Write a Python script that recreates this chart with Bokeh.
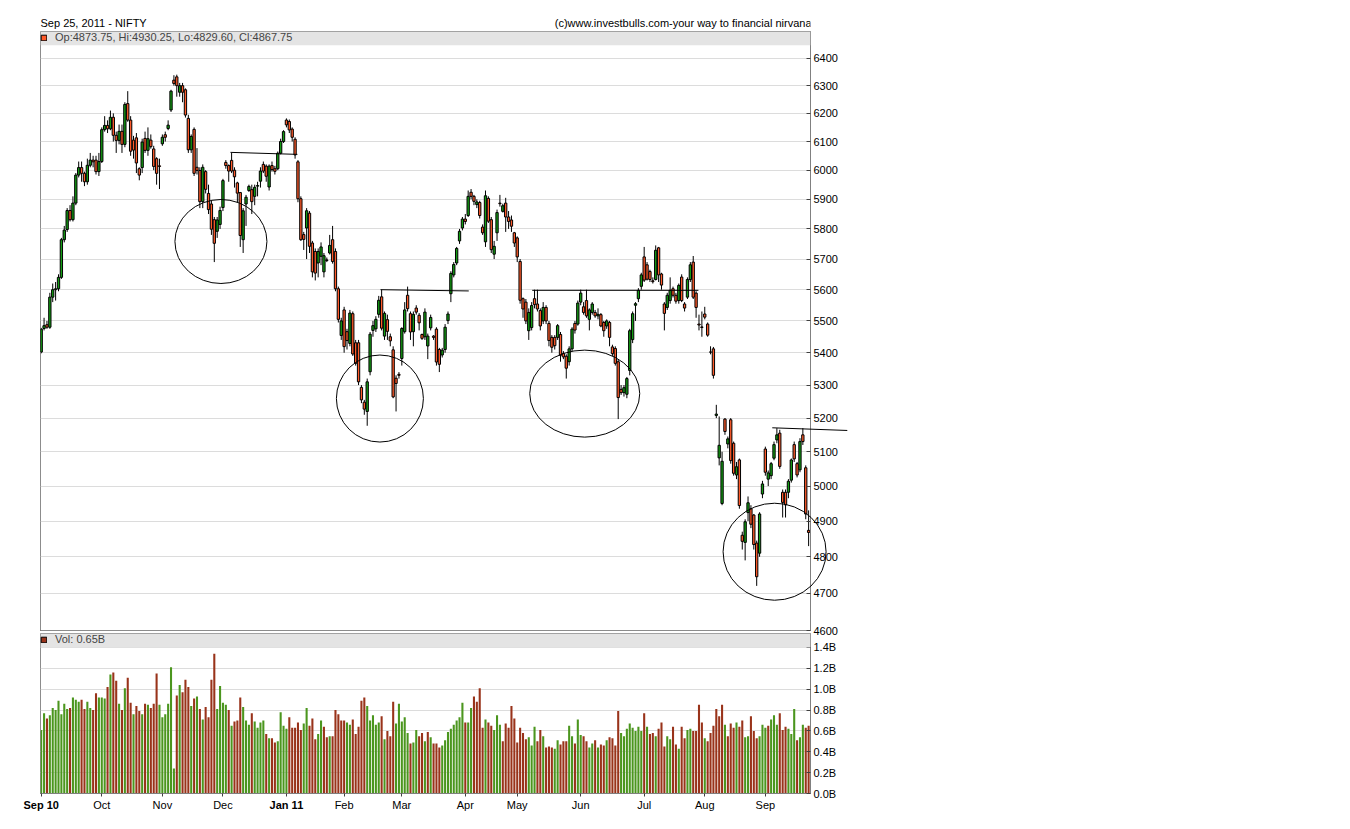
from bokeh.plotting import figure
from bokeh.layouts import column
from bokeh.models import (Range1d, FixedTicker, PrintfTickFormatter, ColumnDataSource,
                          Legend, LegendItem, BoxAnnotation)
from bokeh.core.properties import value
from bokeh.embed import file_html
from bokeh.resources import INLINE

# ---------------- data ----------------
TITLE_LEFT = "Sep 25, 2011 -  NIFTY"
TITLE_RIGHT = "(c)www.investbulls.com-your way to financial nirvana"

MONTH_LABELS = ["Sep 10", "Oct", "Nov", "Dec", "Jan 11", "Feb", "Mar", "Apr", "May", "Jun", "Jul", "Aug", "Sep"]
MONTH_START = [0, 21, 42, 63, 85, 105, 125, 147, 165, 187, 209, 230, 251]
BOLD_MONTHS = ["Sep 10", "Jan 11"]
PRICE_TICKS = [4600, 4700, 4800, 4900, 5000, 5100, 5200, 5300, 5400, 5500,
               5600, 5700, 5800, 5900, 6000, 6100, 6200, 6300, 6400]
VOLUME_TICKS = [0.0, 0.2, 0.4, 0.6, 0.8, 1.0, 1.2, 1.4]

OHLC = [
    # Sep 2010
    (5402, 5478, 5398, 5474), (5476, 5510, 5470, 5485), (5488, 5500, 5475, 5480), (5480, 5590, 5475, 5576),
    (5576, 5620, 5560, 5600), (5600, 5625, 5565, 5603), (5603, 5650, 5595, 5640), (5640, 5770, 5635, 5764),
    (5764, 5810, 5755, 5796), (5798, 5870, 5790, 5862), (5862, 5880, 5825, 5831), (5831, 5910, 5825, 5887),
    (5887, 5990, 5880, 5983), (5983, 6030, 5975, 6009), (6009, 6030, 5960, 5989), (5989, 5995, 5945, 5960),
    (5960, 6040, 5950, 6017), (6017, 6060, 6010, 6035), (6035, 6050, 6010, 6029), (6035, 6050, 5985, 5995),
    (5995, 6060, 5980, 6030),
    # Oct
    (6030, 6150, 6025, 6142), (6142, 6190, 6135, 6157), (6157, 6175, 6130, 6145), (6145, 6210, 6140, 6186),
    (6186, 6200, 6100, 6122), (6122, 6135, 6060, 6104), (6104, 6160, 6090, 6136), (6136, 6160, 6060, 6090),
    (6090, 6240, 6080, 6232), (6235, 6280, 6170, 6176), (6176, 6190, 6050, 6066), (6105, 6120, 6040, 6070),
    (6113, 6130, 5990, 6025), (6005, 6010, 5965, 5983), (6009, 6110, 5990, 6098), (6111, 6135, 6060, 6069),
    (6069, 6150, 6050, 6110), (6105, 6125, 6075, 6082), (6074, 6085, 6000, 6013), (6040, 6045, 5950, 5989),
    (6015, 6040, 5935, 6013),
    # Nov
    (6092, 6125, 6085, 6115), (6124, 6135, 6100, 6115), (6146, 6175, 6140, 6158), (6212, 6285, 6205, 6280),
    (6320, 6338, 6300, 6308), (6332, 6340, 6260, 6300), (6276, 6310, 6260, 6300), (6300, 6310, 6240, 6276),
    (6285, 6290, 6185, 6194), (6182, 6195, 6060, 6071), (6071, 6125, 6060, 6118), (6143, 6150, 5980, 5989),
    (6010, 6077, 5985, 5999), (5999, 6010, 5870, 5892), (5892, 6020, 5870, 6010), (5995, 6000, 5920, 5934),
    (5920, 5950, 5850, 5865), (5884, 5895, 5780, 5799), (5831, 5840, 5690, 5752), (5792, 5840, 5770, 5830),
    (5815, 5875, 5800, 5862),
    # Dec
    (5872, 5970, 5860, 5964), (6027, 6035, 6005, 6016), (6016, 6020, 5960, 5997), (6034, 6060, 5990, 5997),
    (6000, 6010, 5940, 5977), (5956, 5960, 5890, 5921), (5923, 5925, 5740, 5778), (5764, 5870, 5720, 5861),
    (5884, 5915, 5810, 5907), (5930, 5950, 5925, 5944), (5933, 5950, 5850, 5892), (5910, 5950, 5880, 5941),
    (5945, 5960, 5910, 5947), (5962, 6010, 5940, 5997), (6020, 6030, 5990, 5997), (6014, 6020, 5960, 5979),
    (5942, 6020, 5930, 6014), (6016, 6030, 5995, 6002), (6005, 6015, 5985, 5996), (6005, 6065, 6000, 6059),
    (6059, 6110, 6055, 6100), (6100, 6140, 6095, 6135),
    # Jan 2011
    (6176, 6182, 6150, 6159), (6171, 6178, 6130, 6141), (6144, 6150, 6100, 6115), (6108, 6115, 6040, 6053),
    (6029, 6035, 5890, 5902), (5902, 5910, 5760, 5764), (5781, 5790, 5730, 5765), (5803, 5870, 5700, 5861),
    (5853, 5860, 5720, 5742), (5753, 5760, 5640, 5658), (5725, 5735, 5630, 5654), (5687, 5735, 5640, 5725),
    (5709, 5755, 5680, 5740), (5658, 5720, 5640, 5711), (5697, 5705, 5690, 5695), (5720, 5780, 5715, 5745),
    (5764, 5810, 5685, 5692), (5725, 5735, 5595, 5603), (5603, 5610, 5495, 5505), (5454, 5510, 5440, 5500),
    # Feb
    (5535, 5545, 5400, 5419), (5466, 5475, 5410, 5438), (5429, 5535, 5420, 5525), (5523, 5530, 5390, 5396),
    (5431, 5440, 5360, 5367), (5431, 5440, 5300, 5310), (5293, 5300, 5245, 5255), (5248, 5255, 5210, 5227),
    (5220, 5320, 5177, 5310), (5341, 5465, 5330, 5458), (5470, 5500, 5450, 5485), (5475, 5515, 5465, 5505),
    (5521, 5580, 5510, 5566), (5577, 5600, 5470, 5477), (5452, 5530, 5440, 5524), (5504, 5520, 5440, 5467),
    (5450, 5460, 5420, 5437), (5409, 5420, 5260, 5264), (5321, 5330, 5220, 5305), (5333, 5340, 5320, 5330),
    # Mar
    (5382, 5480, 5360, 5476), (5466, 5560, 5460, 5535), (5582, 5610, 5530, 5539), (5523, 5530, 5440, 5465),
    (5466, 5530, 5420, 5521), (5541, 5550, 5520, 5528), (5518, 5525, 5470, 5494), (5457, 5460, 5440, 5445),
    (5450, 5540, 5440, 5528), (5421, 5460, 5380, 5452), (5478, 5520, 5470, 5511), (5452, 5455, 5440, 5448),
    (5474, 5480, 5360, 5371), (5410, 5415, 5340, 5364), (5393, 5415, 5385, 5408), (5410, 5490, 5400, 5480),
    (5501, 5530, 5490, 5522), (5587, 5660, 5560, 5653), (5648, 5690, 5640, 5682), (5687, 5740, 5680, 5735),
    (5760, 5800, 5750, 5792), (5803, 5840, 5795, 5833),
    # Apr
    (5833, 5850, 5815, 5825), (5845, 5930, 5840, 5910), (5924, 5935, 5900, 5910), (5910, 5915, 5880, 5893),
    (5882, 5900, 5870, 5891), (5889, 5895, 5835, 5845), (5806, 5815, 5780, 5787), (5757, 5930, 5740, 5912),
    (5903, 5910, 5820, 5826), (5831, 5840, 5720, 5731), (5716, 5760, 5700, 5742), (5787, 5865, 5760, 5855),
    (5887, 5915, 5875, 5885), (5859, 5885, 5855, 5878), (5887, 5905, 5790, 5840), (5840, 5860, 5800, 5825),
    (5830, 5845, 5790, 5809), (5787, 5790, 5740, 5753),
    # May
    (5770, 5775, 5690, 5707), (5692, 5700, 5555, 5566), (5571, 5575, 5510, 5538), (5560, 5570, 5490, 5500),
    (5469, 5540, 5440, 5527), (5479, 5560, 5470, 5549), (5571, 5600, 5540, 5552), (5554, 5600, 5530, 5538),
    (5533, 5540, 5470, 5484), (5500, 5560, 5490, 5543), (5543, 5550, 5490, 5500), (5492, 5500, 5420, 5438),
    (5448, 5455, 5400, 5417), (5448, 5455, 5410, 5422), (5448, 5490, 5440, 5485), (5457, 5465, 5372, 5392),
    (5397, 5405, 5380, 5387), (5389, 5395, 5320, 5352), (5372, 5420, 5360, 5412), (5412, 5480, 5405, 5474),
    (5492, 5500, 5460, 5471), (5490, 5565, 5485, 5557),
    # Jun
    (5560, 5600, 5550, 5589), (5545, 5560, 5520, 5527), (5565, 5600, 5510, 5516), (5505, 5540, 5470, 5535),
    (5527, 5560, 5520, 5554), (5527, 5535, 5510, 5516), (5516, 5540, 5505, 5521), (5520, 5525, 5480, 5484),
    (5495, 5500, 5450, 5469), (5484, 5505, 5475, 5500), (5495, 5500, 5420, 5448), (5418, 5425, 5390, 5397),
    (5413, 5420, 5360, 5367), (5372, 5380, 5197, 5262), (5287, 5300, 5270, 5277), (5277, 5300, 5265, 5292),
    (5272, 5325, 5260, 5320), (5345, 5475, 5330, 5469), (5441, 5530, 5430, 5523), (5550, 5560, 5500, 5555),
    (5571, 5605, 5560, 5598), (5611, 5655, 5600, 5648),
    # Jul
    (5707, 5740, 5625, 5631), (5681, 5690, 5630, 5634), (5659, 5665, 5625, 5633), (5629, 5640, 5620, 5626),
    (5633, 5745, 5630, 5729), (5737, 5740, 5625, 5648), (5651, 5655, 5600, 5615), (5554, 5560, 5470, 5524),
    (5543, 5590, 5535, 5582), (5565, 5640, 5555, 5598), (5603, 5610, 5575, 5582), (5582, 5590, 5555, 5563),
    (5565, 5620, 5555, 5614), (5641, 5650, 5560, 5565), (5554, 5560, 5530, 5541), (5576, 5640, 5570, 5633),
    (5633, 5690, 5625, 5681), (5690, 5710, 5570, 5576), (5589, 5595, 5510, 5543), (5490, 5520, 5470, 5487),
    (5481, 5530, 5450, 5479),
    # Aug
    (5522, 5545, 5505, 5512), (5490, 5495, 5450, 5455), (5402, 5420, 5395, 5402), (5412, 5418, 5320, 5330),
    (5208, 5240, 5200, 5212), (5082, 5205, 5060, 5119), (4950, 5100, 4945, 5072), (5197, 5200, 5150, 5160),
    (5123, 5145, 5110, 5138), (5195, 5200, 5065, 5074), (5125, 5130, 5030, 5037), (5032, 5070, 5020, 5056),
    (5076, 5080, 4935, 4944), (4860, 4870, 4820, 4843), (4840, 4905, 4790, 4898), (4924, 4970, 4900, 4952),
    (4935, 4945, 4880, 4891), (4917, 4920, 4820, 4834), (4838, 4845, 4720, 4745), (4810, 4925, 4800, 4920),
    (4977, 5015, 4965, 5006),
    # Sep 2011
    (5108, 5115, 5030, 5040), (5020, 5045, 5000, 5038), (5030, 5070, 5020, 5065), (5081, 5130, 5075, 5121),
    (5135, 5170, 5125, 5150), (5155, 5165, 5050, 5057), (4982, 4990, 4910, 4953), (4982, 4990, 4910, 4946),
    (4982, 5020, 4965, 5014), (5017, 5080, 5010, 5076), (5121, 5130, 5070, 5079), (5065, 5070, 5025, 5032),
    (5047, 5140, 5040, 5130), (5150, 5170, 5120, 5130), (5053, 5060, 4905, 4920), (4873.75, 4930.25, 4829.60, 4867.75),
]
OPEN = [r[0] for r in OHLC]
HIGH = [r[1] for r in OHLC]
LOW = [r[2] for r in OHLC]
CLOSE = [r[3] for r in OHLC]

VOLUME = [  # billions
    0.61, 0.77, 0.72, 0.75, 0.82, 0.80, 0.89, 0.76, 0.86, 0.81,
    0.82, 0.92, 0.90, 0.88, 0.90, 0.81, 0.88, 0.82, 0.80, 0.96,
    0.92, 0.92, 0.91, 1.02, 1.14, 1.16, 1.08, 0.86, 0.80, 1.01,
    1.11, 0.87, 0.76, 0.84, 0.79, 0.76, 0.86, 0.85, 0.82, 0.86,
    1.15, 0.85, 0.73, 0.76, 0.86, 1.21, 0.24, 0.94, 1.04, 0.97,
    1.09, 1.02, 0.84, 0.91, 0.93, 0.81, 0.71, 0.83, 0.73, 1.09,
    1.34, 0.81, 1.03, 0.87, 0.85, 0.80, 0.65, 0.69, 0.70, 0.92,
    0.83, 0.70, 0.66, 0.77, 0.69, 0.63, 0.68, 0.70, 0.57, 0.53,
    0.53, 0.49, 0.50, 0.78, 0.65, 0.62, 0.73, 0.63, 0.63, 0.68,
    0.61, 0.67, 0.82, 0.65, 0.72, 0.52, 0.57, 0.70, 0.64, 0.54,
    0.55, 0.55, 0.80, 0.76, 0.70, 0.70, 0.68, 0.66, 0.71, 0.57,
    0.64, 0.89, 0.92, 0.84, 0.70, 0.75, 0.66, 0.68, 0.74, 0.52,
    0.60, 0.55, 0.88, 0.67, 0.86, 0.69, 0.73, 0.58, 0.48, 0.49,
    0.61, 0.55, 0.58, 0.50, 0.59, 0.54, 0.48, 0.48, 0.44, 0.46,
    0.51, 0.59,
    0.62, 0.66, 0.70, 0.73, 0.87, 0.68, 0.68, 0.82, 0.93, 0.88,
    1.01, 0.63, 0.71, 0.68, 0.65, 0.61, 0.75, 0.66, 0.50, 0.67,
    0.63, 0.84, 0.72, 0.49, 0.63, 0.58, 0.52, 0.54, 0.46, 0.64,
    0.50, 0.61, 0.55, 0.44, 0.45, 0.44, 0.43, 0.51, 0.47, 0.50,
    0.50, 0.65, 0.55, 0.48, 0.71, 0.56, 0.55, 0.50, 0.44, 0.48,
    0.51, 0.44, 0.47, 0.46, 0.51, 0.54, 0.53, 0.46, 0.79, 0.58,
    0.55, 0.62, 0.67, 0.63, 0.60, 0.64, 0.60, 0.77, 0.64, 0.57, 0.58,
    0.55, 0.62, 0.68, 0.45, 0.55, 0.52, 0.64, 0.47, 0.43, 0.64,
    0.53, 0.61, 0.62, 0.60, 0.60, 0.85, 0.68, 0.53, 0.50, 0.58,
    0.65, 0.81, 0.74, 0.85, 0.66, 0.55, 0.67, 0.63, 0.68, 0.64,
    0.70, 0.54, 0.55, 0.74, 0.60, 0.53, 0.55, 0.66, 0.63, 0.65,
    0.71, 0.75, 0.66, 0.77, 0.61, 0.64, 0.62, 0.57, 0.81, 0.51,
    0.54, 0.66, 0.63, 0.65,
]

# hand-drawn annotations (bar index, price)
TREND_X = [[65.6, 88.8], [117.6, 148.2], [170.2, 227.8], [253.4, 279.4]]
TREND_Y = [[6062, 6055], [5600, 5596], [5598, 5598], [5171, 5163]]
CIRCLE_X = [62.3, 117.4, 188.4, 254.2]
CIRCLE_Y = [5758, 5259, 5274, 4814]
CIRCLE_W = [92, 87, 110, 103]
CIRCLE_H = [84, 87, 87, 97]

# ---------------- styles ----------------
FONT = "Liberation Sans"
UP = "#139c13"
DOWN = "#ff5a2a"
VUP = "#4b961e"
VDOWN = "#99331a"
BAND = "#e4e4e4"
GRID = "#dcdcdc"
FRAME = "#8c8c8c"
W = 858
LEFT, RIGHT = 40, 48
VOL_PX_PER_UNIT = 160 / 1.534

N = len(CLOSE)
idx = list(range(N))
body_top = [max(o, c) for o, c in zip(OPEN, CLOSE)]
body_bot = [min(o, c) for o, c in zip(OPEN, CLOSE)]
wick_top = [max(h, o, c) for h, o, c in zip(HIGH, OPEN, CLOSE)]
wick_bot = [min(l, o, c) for l, o, c in zip(LOW, OPEN, CLOSE)]
ccol = [UP if c >= o else DOWN for o, c in zip(OPEN, CLOSE)]
vcol = [VUP] + [VUP if CLOSE[i] >= CLOSE[i - 1] else VDOWN for i in range(1, N)]

src = ColumnDataSource(dict(x=idx, bt=body_top, bb=body_bot, wt=wick_top, wb=wick_bot,
                            cc=ccol, vol=VOLUME, vc=vcol))

x_range = Range1d(-0.24, N - 0.35)


def style_axis(ax):
    ax.minor_tick_line_color = None
    ax.axis_line_color = "#808080"
    ax.major_tick_line_color = "#404040"
    ax.major_label_text_font = FONT
    ax.major_label_text_font_size = "11px"
    ax.major_label_text_color = "black"


def legend_for(renderer, text):
    return Legend(items=[LegendItem(label=value(text), renderers=[renderer])],
                  location="top_left", margin=0, padding=5, spacing=0,
                  glyph_width=7, glyph_height=7, label_height=7, label_standoff=8,
                  label_text_font=FONT, label_text_font_size="11px",
                  background_fill_alpha=0, border_line_color=None)


# ---------------- header strip ----------------
header = figure(width=W, height=31, x_range=Range1d(LEFT, W - RIGHT), y_range=Range1d(0, 31),
                x_axis_location=None, y_axis_location=None, output_backend="svg",
                toolbar_location=None, min_border_left=LEFT, min_border_right=RIGHT,
                min_border_top=0, min_border_bottom=0)
header.outline_line_color = None
header.grid.visible = False
header.text(x=[40], y=[9], text=[TITLE_LEFT], text_font=value(FONT), text_font_size=value("11px"),
            text_baseline=value("alphabetic"), text_align=value("left"), text_color="black")
header.text(x=[811], y=[9], text=[TITLE_RIGHT], text_font=value(FONT), text_font_size=value("11px"),
            text_baseline=value("alphabetic"), text_align=value("right"), text_color="black")

# ---------------- price panel ----------------
price = figure(width=W, height=606, x_range=x_range, y_range=Range1d(4600, 6500),
               y_axis_type="log", y_axis_location="right", x_axis_location=None,
               output_backend="svg", toolbar_location=None,
               min_border_left=LEFT, min_border_right=RIGHT, min_border_top=0, min_border_bottom=7)
price.outline_line_color = FRAME
price.ygrid.grid_line_color = GRID
price.xgrid.visible = False
ya = price.yaxis[0]
ya.ticker = FixedTicker(ticks=PRICE_TICKS)
ya.formatter = PrintfTickFormatter(format="%d")
ya.major_tick_in = 4
ya.major_tick_out = 0
ya.major_label_standoff = 3
style_axis(ya)

price.add_layout(BoxAnnotation(bottom=6449, fill_color=BAND, fill_alpha=1.0, line_color=None))

price.segment(x0="x", y0="wb", x1="x", y1="wt", source=src, line_color="black", line_width=1)
price.vbar(x="x", width=0.8, top="bt", bottom="bb", source=src,
           fill_color="cc", line_color="black", line_width=1)

for tx, ty in zip(TREND_X, TREND_Y):
    r = price.line(tx, ty, line_color="black", line_width=1)
    r.level = "overlay"
er = price.ellipse(x=CIRCLE_X, y=CIRCLE_Y, width=CIRCLE_W, height=CIRCLE_H,
                   width_units="screen", height_units="screen",
                   fill_color=None, line_color="black", line_width=1)
er.level = "overlay"

# legend swatch (a bar placed outside both visible ranges)
key_p = price.vbar(x=[-20], top=[3000], bottom=[2900], width=0.5, fill_color=DOWN, line_color="black")
ohlc_text = "Op:%.2f, Hi:%.2f, Lo:%.2f, Cl:%.2f" % (OPEN[-1], HIGH[-1], LOW[-1], CLOSE[-1])
price.add_layout(legend_for(key_p, ohlc_text))

# ---------------- volume panel ----------------
vol = figure(width=W, height=186, x_range=x_range, y_range=Range1d(0, 1.534),
             y_axis_location="right", output_backend="svg", toolbar_location=None,
             min_border_left=LEFT, min_border_right=RIGHT, min_border_top=1, min_border_bottom=25)
vol.margin = (-5, 0, 0, 0)
vol.border_fill_alpha = 0
vol.outline_line_color = FRAME
vol.ygrid.grid_line_color = GRID
vol.xgrid.visible = False
va = vol.yaxis[0]
va.ticker = FixedTicker(ticks=VOLUME_TICKS)
va.formatter = PrintfTickFormatter(format="%.1fB")
va.major_tick_in = 4
va.major_tick_out = 0
va.major_label_standoff = 3
style_axis(va)

xa = vol.xaxis[0]
xa.ticker = FixedTicker(ticks=MONTH_START)
xa.major_label_overrides = {s: ("" if m in BOLD_MONTHS else m) for s, m in zip(MONTH_START, MONTH_LABELS)}
xa.major_tick_in = 0
xa.major_tick_out = 3
xa.major_label_standoff = 2
style_axis(xa)

vol.add_layout(BoxAnnotation(bottom=1.4, fill_color=BAND, fill_alpha=1.0, line_color=None))
vol.vbar(x="x", width=0.72, top="vol", bottom=0, source=src, fill_color="vc", line_color=None)

# year-start month labels in bold, drawn just under the axis line
bold_x = [s for s, m in zip(MONTH_START, MONTH_LABELS) if m in BOLD_MONTHS]
bold_t = [m for m in MONTH_LABELS if m in BOLD_MONTHS]
tb = vol.text(x=bold_x, y=[-5.5 / VOL_PX_PER_UNIT] * len(bold_x), text=bold_t,
              text_font=value(FONT), text_font_size=value("11px"), text_font_style="bold",
              text_align="center", text_baseline="top", text_color="black")
tb.level = "overlay"

key_v = vol.vbar(x=[-20], top=[-2.0], bottom=[-3.0], width=0.5, fill_color=VDOWN, line_color="black")
vol.add_layout(legend_for(key_v, "Vol: %.2fB" % VOLUME[-1]))

layout = column(header, price, vol, spacing=0)
open("out.html", "w").write(file_html(layout, INLINE))
